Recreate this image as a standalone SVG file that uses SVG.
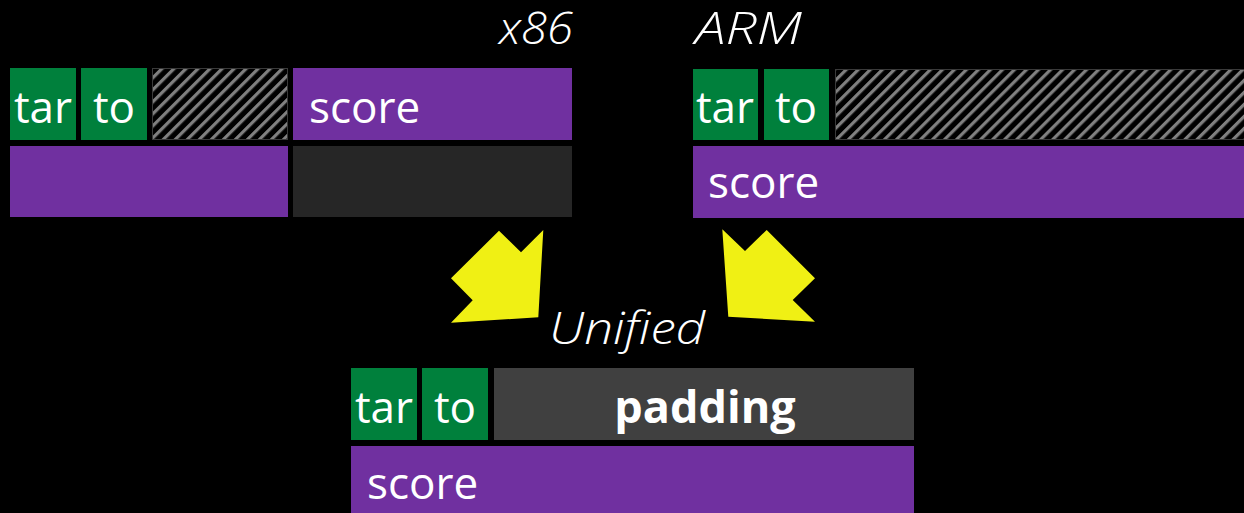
<svg xmlns="http://www.w3.org/2000/svg" width="1244" height="513" viewBox="0 0 1244 513">
<style>
.bg{fill:#000}
.g{fill:#00803C}
.p{fill:#7030A0}
.d{fill:#262626}
.pad{fill:#404040}
.h{fill:url(#hatch);stroke:#3a3a3a;stroke-width:1}
.t{font-family:"Open Sans","Noto Sans",sans-serif;font-size:44px;fill:#fff}
.c{text-anchor:middle}
.lbl{font-family:"Open Sans","Noto Sans",sans-serif;font-size:45px;font-style:italic;font-weight:300;fill:#fff}
.b{font-weight:bold;font-size:45px}
.arrow{fill:#F0F014}
</style>
<defs>
<pattern id="hatch" patternUnits="userSpaceOnUse" width="8.5" height="8.5" patternTransform="rotate(45)">
<rect width="8.5" height="8.5" fill="#000"/>
<rect x="0" y="0" width="3.2" height="8.5" fill="#808080"/>
</pattern>
</defs>
<rect class="bg" width="1244" height="513"/>
<g id="x86">
<text class="lbl" x="499" y="44" textLength="74" lengthAdjust="spacingAndGlyphs">x86</text>
<rect class="g" x="10" y="68" width="66" height="72"/>
<text class="t c" x="43" y="123">tar</text>
<rect class="g" x="81" y="68" width="66" height="72"/>
<text class="t c" x="114" y="123">to</text>
<rect class="h" x="152.5" y="68.5" width="135" height="71"/>
<rect class="p" x="293" y="68" width="279" height="72"/>
<text class="t" x="309" y="123">score</text>
<rect class="p" x="10" y="146" width="278" height="71"/>
<rect class="d" x="293" y="146" width="279" height="71"/>
</g>
<g id="arm">
<text class="lbl" x="695" y="44" textLength="107" lengthAdjust="spacingAndGlyphs">ARM</text>
<rect class="g" x="693" y="69" width="65" height="71"/>
<text class="t c" x="725" y="123">tar</text>
<rect class="g" x="764" y="69" width="65" height="71"/>
<text class="t c" x="796" y="123">to</text>
<rect class="h" x="835.5" y="69.5" width="410" height="70"/>
<rect class="p" x="693" y="146" width="551" height="72"/>
<text class="t" x="708" y="198">score</text>
</g>
<g id="connectors">
<polygon class="arrow" points="499,230.7 521,252.3 543.3,230 538.3,317.3 451,322.7 472.7,300.3 451,278.3"/>
<polygon class="arrow" points="722.3,229.3 745,251 766.7,230 815,278.3 792.7,300 815,321.7 728.3,316.7"/>
</g>
<g id="unified">
<text class="lbl" x="549" y="344" textLength="156" lengthAdjust="spacingAndGlyphs">Unified</text>
<rect class="g" x="351" y="368" width="66" height="72"/>
<text class="t c" x="384" y="423">tar</text>
<rect class="g" x="422" y="368" width="66" height="72"/>
<text class="t c" x="455" y="423">to</text>
<rect class="pad" x="494" y="368" width="420" height="72"/>
<text class="t c b" x="705" y="423">padding</text>
<rect class="p" x="351" y="446" width="563" height="67"/>
<text class="t" x="367" y="499">score</text>
</g>
</svg>
